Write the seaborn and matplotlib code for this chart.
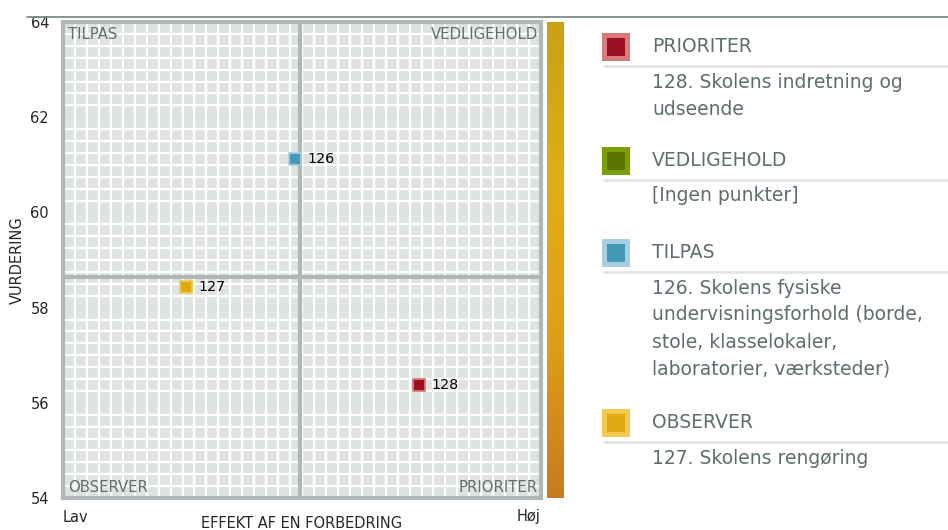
import numpy as np
import pandas as pd
import matplotlib
matplotlib.use("Agg")
import matplotlib.pyplot as plt
from matplotlib.colors import LinearSegmentedColormap
from matplotlib.patches import Rectangle
import seaborn as sns

# --- data ---------------------------------------------------------------------
point_ids = ["126", "127", "128"]
effect    = [0.485, 0.257, 0.745]       # position on "effekt" axis (0 = Lav, 1 = Høj)
rating    = [61.12, 58.43, 56.37]       # VURDERING
quadrant  = ["TILPAS", "OBSERVER", "PRIORITER"]

effect_mid = 0.496
rating_mid = 58.64
y_ticks    = [54, 56, 58, 60, 62, 64]

legend_titles = ["PRIORITER", "VEDLIGEHOLD", "TILPAS", "OBSERVER"]
legend_items  = [
    ["128. Skolens indretning og", "udseende"],
    ["[Ingen punkter]"],
    ["126. Skolens fysiske", "undervisningsforhold (borde,", "stole, klasselokaler,", "laboratorier, værksteder)"],
    ["127. Skolens rengøring"],
]

# --- colours ------------------------------------------------------------------
inner = {"PRIORITER": "#9b1123", "VEDLIGEHOLD": "#5c7400",
         "TILPAS": "#4499b8", "OBSERVER": "#e0aa12"}
outer = {"PRIORITER": "#d97a7a", "VEDLIGEHOLD": "#7d9e00",
         "TILPAS": "#a6cfdf", "OBSERVER": "#f2c850"}
text_grey = "#5f6e68"
frame = "#b1b8b4"

df = pd.DataFrame({"id": point_ids, "effect": effect, "rating": rating, "quadrant": quadrant})

sns.set_style("white")
plt.rcParams["font.family"] = ["DejaVu Sans"]

fig = plt.figure(figsize=(9.48, 5.30), dpi=100)
ax = fig.add_axes([63 / 948, 1 - 498 / 530, 478 / 948, 476 / 530])

ax.set_facecolor("#dfe3e0")
ax.set_xlim(0, 1)
ax.set_ylim(54, 64)
ax.set_xticks(np.linspace(0, 1, 41), minor=True)
ax.set_yticks(np.linspace(54, 64, 41), minor=True)
ax.grid(which="minor", color="white", lw=1.6)
ax.grid(which="major", visible=False)
ax.set_axisbelow(True)
ax.tick_params(which="both", length=0)
ax.set_xticks([])
ax.set_yticks(y_ticks)
ax.set_yticklabels([str(t) for t in y_ticks], fontsize=10.5)
ax.tick_params(axis="y", pad=10)
for sp in ax.spines.values():
    sp.set_color(frame)
    sp.set_linewidth(3)

ax.axvline(effect_mid, color=frame, lw=3, zorder=2)
ax.axhline(rating_mid, color=frame, lw=3, zorder=2)

sns.scatterplot(data=df, x="effect", y="rating", hue="quadrant", marker="s", s=72,
                palette=inner, edgecolor=[outer[q] for q in df["quadrant"]],
                linewidth=1.3, legend=False, ax=ax, zorder=3)
for _, r in df.iterrows():
    ax.annotate(r["id"], (r["effect"], r["rating"]), xytext=(9, 0),
                textcoords="offset points", va="center", fontsize=10.3, color="black")

ax.set_xlabel("")
ax.set_ylabel("")

qkw = dict(transform=ax.transAxes, fontsize=10.7, color=text_grey, zorder=4)
ax.text(0.011, 0.99, "TILPAS", ha="left", va="top", **qkw)
ax.text(0.993, 0.99, "VEDLIGEHOLD", ha="right", va="top", **qkw)
ax.text(0.011, 0.006, "OBSERVER", ha="left", va="bottom", **qkw)
ax.text(0.993, 0.006, "PRIORITER", ha="right", va="bottom", **qkw)

fig.text(63 / 948, 1 - 518 / 530, "Lav", fontsize=10.5, va="center", ha="left")
fig.text(541 / 948, 1 - 516 / 530, "Høj", fontsize=10.5, va="center", ha="right")
fig.text(302 / 948, 1 - 523 / 530, "EFFEKT AF EN FORBEDRING", fontsize=10.5, va="center", ha="center")
fig.text(17 / 948, 1 - 260 / 530, "VURDERING", fontsize=10.5, va="center", ha="center", rotation=90)

# gradient bar
cax = fig.add_axes([547 / 948, 1 - 498 / 530, 17 / 948, 476 / 530])
cmap = LinearSegmentedColormap.from_list("g", ["#c8a112", "#e1ae14", "#de9f18", "#c97a1f"])
cax.imshow(np.linspace(0, 1, 256).reshape(-1, 1), aspect="auto", cmap=cmap)
cax.axis("off")

# top rule
fig.add_artist(plt.Line2D([27 / 948, 1], [1 - 17 / 530] * 2, color="#7d8a85", lw=1.3))

# legend panel
title_y = [47, 161, 253, 423]
for title, items, ty in zip(legend_titles, legend_items, title_y):
    fig.add_artist(Rectangle((602 / 948, 1 - (ty + 14) / 530), 28 / 948, 28 / 530,
                             facecolor=outer[title], edgecolor="none"))
    fig.add_artist(Rectangle((607 / 948, 1 - (ty + 9) / 530), 18 / 948, 18 / 530,
                             facecolor=inner[title], edgecolor="none"))
    fig.text(652 / 948, 1 - ty / 530, title, fontsize=13.5, color=text_grey, va="center")
    fig.add_artist(plt.Line2D([604 / 948, 1], [1 - (ty + 19) / 530] * 2, color="#e4e4e4", lw=2))
    for i, line in enumerate(items):
        fig.text(652 / 948, 1 - (ty + 35 + 27 * i) / 530, line, fontsize=13.5,
                 color=text_grey, va="center")

fig.savefig("out.png", dpi=100)
